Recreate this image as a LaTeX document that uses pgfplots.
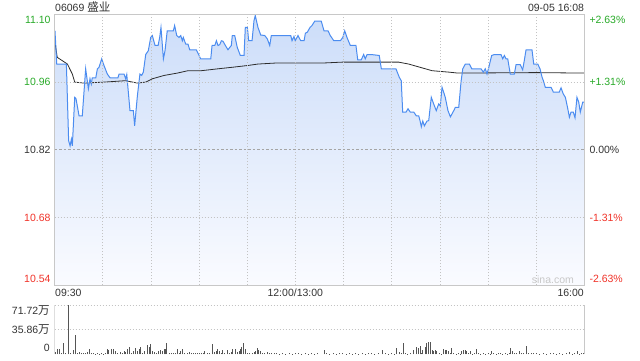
\documentclass[border=0pt]{standalone}
\usepackage{pgfplots}
\pgfplotsset{compat=1.18}
\usepackage{pgfplotstable}
\usepackage{fontspec}
\setmainfont{Liberation Sans}
\newfontfamily\cjk[Scale=1.1]{Noto Sans CJK SC}
\definecolor{bordergray}{RGB}{200,200,200}
\definecolor{dotgray}{RGB}{195,195,195}
\definecolor{zerogray}{RGB}{165,165,165}
\definecolor{priceblue}{RGB}{75,140,240}
\definecolor{avgcol}{RGB}{45,45,45}
\definecolor{volcol}{RGB}{85,85,85}
\definecolor{upgreen}{RGB}{40,170,40}
\definecolor{downred}{RGB}{240,50,40}
\definecolor{txt}{RGB}{51,51,51}
\definecolor{filltop}{RGB}{204,221,249}
\definecolor{fillbot}{RGB}{250,251,255}
\definecolor{wm}{RGB}{200,200,200}

\pgfplotstableread{
m p
0.3 11.070
1.4 11.000
7.4 11.000
8.8 10.839
9.7 10.828
10.5 10.842
11.1 10.828
12.6 10.930
13.4 10.927
15.3 10.891
17.3 10.891
19.4 10.990
21.1 10.948
22.1 10.969
22.9 10.958
23.5 10.971
25.7 10.971
26.7 10.990
27.7 10.993
29.4 11.011
30.8 10.997
32.9 10.979
34.6 10.971
39.5 10.971
40.2 10.979
43.3 10.979
44.3 10.969
45.0 10.978
47.0 10.902
49.1 10.902
49.9 10.870
51.6 10.933
53.2 10.979
54.3 10.976
55.3 10.983
56.8 11.020
58.4 11.028
59.9 11.056
60.9 11.060
62.6 11.039
64.5 11.039
65.5 11.056
66.3 11.077
67.8 11.011
68.8 11.028
70.2 11.070
74.0 11.070
74.8 11.081
76.1 11.060
77.5 11.056
78.6 11.060
79.6 11.049
80.2 11.056
81.7 11.042
83.1 11.042
84.2 11.030
88.3 11.030
91.0 11.011
97.3 11.011
98.1 11.039
99.8 11.039
100.8 11.049
101.8 11.039
102.9 11.041
103.9 11.049
104.9 11.048
106.4 11.039
108.0 11.030
109.1 11.035
110.1 11.039
110.7 11.060
112.2 11.060
113.8 11.035
115.7 11.018
118.0 11.018
118.8 11.077
120.1 11.077
120.9 11.049
123.0 11.049
124.2 11.091
125.0 11.102
126.7 11.077
128.4 11.061
130.9 11.060
132.5 11.053
134.0 11.039
135.0 11.060
147.1 11.060
147.9 11.049
149.1 11.058
149.9 11.049
151.6 11.060
153.3 11.049
155.4 11.049
156.2 11.065
157.4 11.067
159.1 11.077
160.3 11.081
162.0 11.090
166.1 11.090
167.8 11.070
170.3 11.070
171.7 11.060
173.9 11.049
178.0 11.049
179.5 11.056
180.7 11.070
182.1 11.056
184.2 11.039
187.7 11.039
188.8 11.009
191.0 11.009
192.5 11.020
193.5 11.011
194.6 11.020
197.3 11.020
202.2 11.018
203.5 10.990
212.6 10.990
214.7 10.972
215.9 10.965
216.8 10.899
218.9 10.899
220.1 10.906
221.5 10.899
223.7 10.899
225.3 10.891
226.8 10.891
227.8 10.878
228.4 10.868
229.3 10.880
230.3 10.870
231.9 10.880
233.0 10.881
234.6 10.930
236.1 10.916
237.7 10.902
239.2 10.916
240.2 10.912
241.3 10.951
242.3 10.941
243.3 10.930
245.0 10.902
246.5 10.889
248.6 10.902
249.6 10.909
251.7 10.909
253.1 10.962
254.2 10.990
255.8 11.000
258.3 11.000
259.8 10.990
265.6 10.990
267.0 10.983
268.2 10.990
269.3 10.979
270.4 10.993
272.2 11.018
273.9 11.020
278.0 11.020
279.1 11.011
280.1 11.018
281.1 11.011
282.2 11.011
283.8 10.979
286.3 10.979
287.4 10.999
289.9 10.999
291.5 10.988
292.5 11.007
293.6 11.030
297.3 11.030
298.4 11.000
300.9 11.000
302.3 10.990
303.6 10.972
304.4 10.965
305.6 10.951
309.2 10.951
310.6 10.941
314.3 10.941
315.4 10.950
316.8 10.937
318.1 10.930
319.6 10.906
320.6 10.888
321.6 10.899
323.0 10.899
324.1 10.887
325.3 10.930
326.4 10.920
327.4 10.899
328.9 10.920
329.7 10.920
}\pricetab

\pgfplotstableread{
m a
0.3 11.046
1.7 11.014
4.9 11.007
8.0 11.000
11.1 10.979
12.6 10.962
18.4 10.960
30.8 10.962
44.3 10.965
51.6 10.960
56.8 10.962
60.9 10.969
68.2 10.976
76.5 10.981
83.1 10.986
91.4 10.986
101.8 10.990
110.1 10.993
120.5 10.997
126.7 11.000
137.1 11.002
166.1 11.002
179.0 11.004
214.3 11.004
220.5 11.000
227.8 10.993
235.1 10.986
245.5 10.983
251.2 10.981
299.8 10.982
329.7 10.981
}\avgtab

\pgfplotstableread{
m v
0.7 3.4
1.8 7.2
3.0 7.2
4.3 2.4
5.5 15.8
7.0 2.4
8.6 71.72
10.1 1.4
11.7 5.7
13.0 28.7
14.2 2.4
15.5 3.4
16.7 1.4
18.0 2.4
19.2 2.4
20.4 3.8
21.7 7.2
22.9 1.4
24.2 1.4
25.5 1.0
26.8 1.4
28.1 1.0
29.4 1.4
30.7 1.0
31.9 1.4
32.9 8.1
33.9 6.2
35.4 7.2
36.6 7.2
38.1 4.8
39.5 2.4
40.8 3.4
42.2 2.4
43.3 4.8
44.3 3.4
45.4 7.2
46.6 11.0
47.8 2.4
49.1 4.8
50.3 8.6
51.6 4.8
52.8 7.2
53.6 11.0
54.9 2.4
56.1 4.8
57.8 12.9
59.0 11.0
59.9 14.3
61.1 4.8
62.4 3.4
63.6 2.4
64.9 4.8
66.1 6.2
67.4 4.8
68.2 7.2
69.0 7.2
69.8 15.8
71.3 2.4
72.7 1.4
74.0 2.4
75.2 1.4
76.5 8.1
77.7 2.4
78.6 4.8
79.8 8.1
81.0 1.4
82.7 1.4
84.0 3.4
85.2 1.4
86.5 1.4
87.7 1.4
89.0 1.4
90.2 2.4
91.4 1.4
92.7 2.4
93.5 4.8
95.2 2.4
96.4 2.4
98.1 14.3
99.3 3.4
100.6 4.8
101.4 7.2
102.6 4.8
103.9 2.4
104.7 5.7
105.9 2.4
107.6 6.2
108.9 2.4
110.1 3.8
110.9 8.1
112.6 8.1
113.8 3.4
115.1 4.8
115.9 7.2
116.5 11.0
117.6 15.8
118.8 7.2
120.1 2.4
121.3 1.4
123.0 2.4
124.2 3.8
125.0 4.8
126.3 9.6
127.1 6.2
128.4 4.8
129.6 2.4
130.9 1.4
132.5 3.4
133.8 1.4
135.0 2.4
136.7 1.4
138 1.4
140 1.0
142 1.9
144 1.0
146 1.4
148 1.0
150 1.4
152 1.9
154 1.0
156 1.4
158 1.0
160 1.4
162 1.0
164 1.4
167.8 6.3
169.5 1.5
171.5 1.0
173.5 1.5
175.5 1.0
177.5 1.5
179.5 1.9
181.5 1.0
183.5 1.5
185.5 1.0
187.5 1.5
189.5 1.0
191.5 1.5
193.5 1.0
195.5 1.5
197.5 1.9
199.5 1.0
201.5 1.5
204.3 6.3
206 1.5
208 1.0
210 1.5
211.5 1.0
213.0 8.7
214.7 4.0
216.0 1.5
217.2 16.9
218.5 1.5
220 1.0
221.4 1.5
223.4 6.3
225.1 11.1
226.5 8.7
227.6 12.1
228.5 1.5
229.3 6.3
230.7 11.1
231.8 16.0
233.0 18.3
233.8 18.3
235.1 6.3
235.9 5.3
237.0 6.3
238.0 5.3
239.5 1.5
241 1.0
242.2 7.3
243.2 6.8
244.3 6.3
245.3 4.8
246.5 1.5
247.4 8.7
248.4 1.5
250 1.0
251.5 1.5
252.5 1.0
253.6 4.3
254.7 6.3
255.7 6.3
256.7 5.3
257.8 1.5
258.8 4.3
260 1.0
261.5 1.5
263.0 7.3
264.0 2.4
265.5 1.0
267.1 1.5
268.5 1.0
270 1.5
271.2 1.0
272.3 5.3
273.4 2.4
275 1.0
276.3 1.5
277.5 1.5
279 1.0
280.5 1.5
282 1.0
283.2 1.5
284.2 8.7
285.0 4.3
286.5 1.5
287.9 2.4
289.6 4.8
290.8 2.4
292.2 1.5
293.7 12.1
295.2 2.4
296.8 1.5
298.3 2.4
300 1.5
302 1.0
304.5 1.5
306.5 1.0
308.5 1.5
310.7 1.5
312.5 1.0
314.5 1.5
316.5 1.0
318.5 1.5
320.7 2.9
322.5 1.0
324 1.5
325.7 4.8
327 1.0
328.4 1.5
329.5 2.0
}\voltab

\begin{document}
\begin{tikzpicture}[x=1pt,y=1pt,every node/.style={font=\fontsize{10.5}{12}\selectfont, inner sep=0pt}]
\path[use as bounding box] (0,0) rectangle (640,360);

\begin{axis}[
  at={(54.5pt,75pt)}, anchor=south west, scale only axis,
  width=530pt, height=270.7pt,
  xmin=0, xmax=330, ymin=10.5354, ymax=11.1046,
  axis line style={draw=bordergray, line width=0.8pt},
  xtick={30,60,...,300}, ytick={10.6777,10.9623},
  xticklabels={}, yticklabels={},
  tick style={draw=none},
  xmajorgrids, ymajorgrids,
  grid style={draw=dotgray, line width=0.7pt, dash pattern=on 1pt off 2pt},
  extra y ticks={10.82}, extra y tick labels={},
  extra y tick style={grid style={draw=zerogray, line width=0.7pt, dash pattern=on 2.5pt off 2pt}},
  axis on top,
]
\addplot[draw=none, top color=filltop, bottom color=fillbot] table[x=m,y=p]{\pricetab} -- (axis cs:329.7,10.5354) -- (axis cs:0.3,10.5354) -- cycle;
\addplot[avgcol, line width=0.8pt] table[x=m,y=a]{\avgtab};
\addplot[priceblue, line width=1pt] table[x=m,y=p]{\pricetab};
\end{axis}

\begin{axis}[
  at={(54.5pt,5.7pt)}, anchor=south west, scale only axis,
  width=530pt, height=49.3pt,
  xmin=0, xmax=330, ymin=0, ymax=71.72,
  axis line style={draw=none},
  xtick=\empty, ytick={35.86,71.72}, yticklabels={},
  tick style={draw=none},
  ymajorgrids,
  grid style={draw=dotgray, line width=0.7pt, dash pattern=on 1pt off 2pt},
  clip=false,
]
\addplot[ycomb, volcol, line width=0.9pt] table[x=m,y=v]{\voltab};
\draw[bordergray, line width=0.8pt] (rel axis cs:1,0) -- (rel axis cs:1,1);
\draw[bordergray!60, line width=0.6pt] (rel axis cs:0,0) -- (rel axis cs:0,1);
\end{axis}

% titles
\node[anchor=base west, text=txt] at (55,348.3) {06069 {\cjk 盛业}};
\node[anchor=base east, text=txt] at (584.3,348.3) {09-05 16:08};
% left price labels
\node[anchor=base east, text=upgreen] at (50.7,336.2) {11.10};
\node[anchor=base east, text=upgreen] at (50.7,274.5) {10.96};
\node[anchor=base east, text=txt] at (50.7,206.5) {10.82};
\node[anchor=base east, text=downred] at (50.7,139) {10.68};
\node[anchor=base east, text=downred] at (50.7,77.5) {10.54};
% right percent labels
\node[anchor=base west, text=upgreen] at (589.3,336.2) {+2.63\%};
\node[anchor=base west, text=upgreen] at (589.3,274.5) {+1.31\%};
\node[anchor=base west, text=txt] at (589.3,206.5) {0.00\%};
\node[anchor=base west, text=downred] at (589.3,139) {-1.31\%};
\node[anchor=base west, text=downred] at (589.3,77.5) {-2.63\%};
% time labels
\node[anchor=base west, text=txt] at (55,63.5) {09:30};
\node[anchor=base, text=txt] at (295.3,63.5) {12:00/13:00};
\node[anchor=base east, text=txt] at (584,63.5) {16:00};
% volume labels
\node[anchor=base east, text=txt] at (50,45.5) {71.72{\cjk 万}};
\node[anchor=base east, text=txt] at (50,26.5) {35.86{\cjk 万}};
\node[anchor=base east, text=txt] at (50,8.5) {0};
% watermark
\node[anchor=base west, text=wm] at (531.7,77) {sina.com};
\end{tikzpicture}
\end{document}
